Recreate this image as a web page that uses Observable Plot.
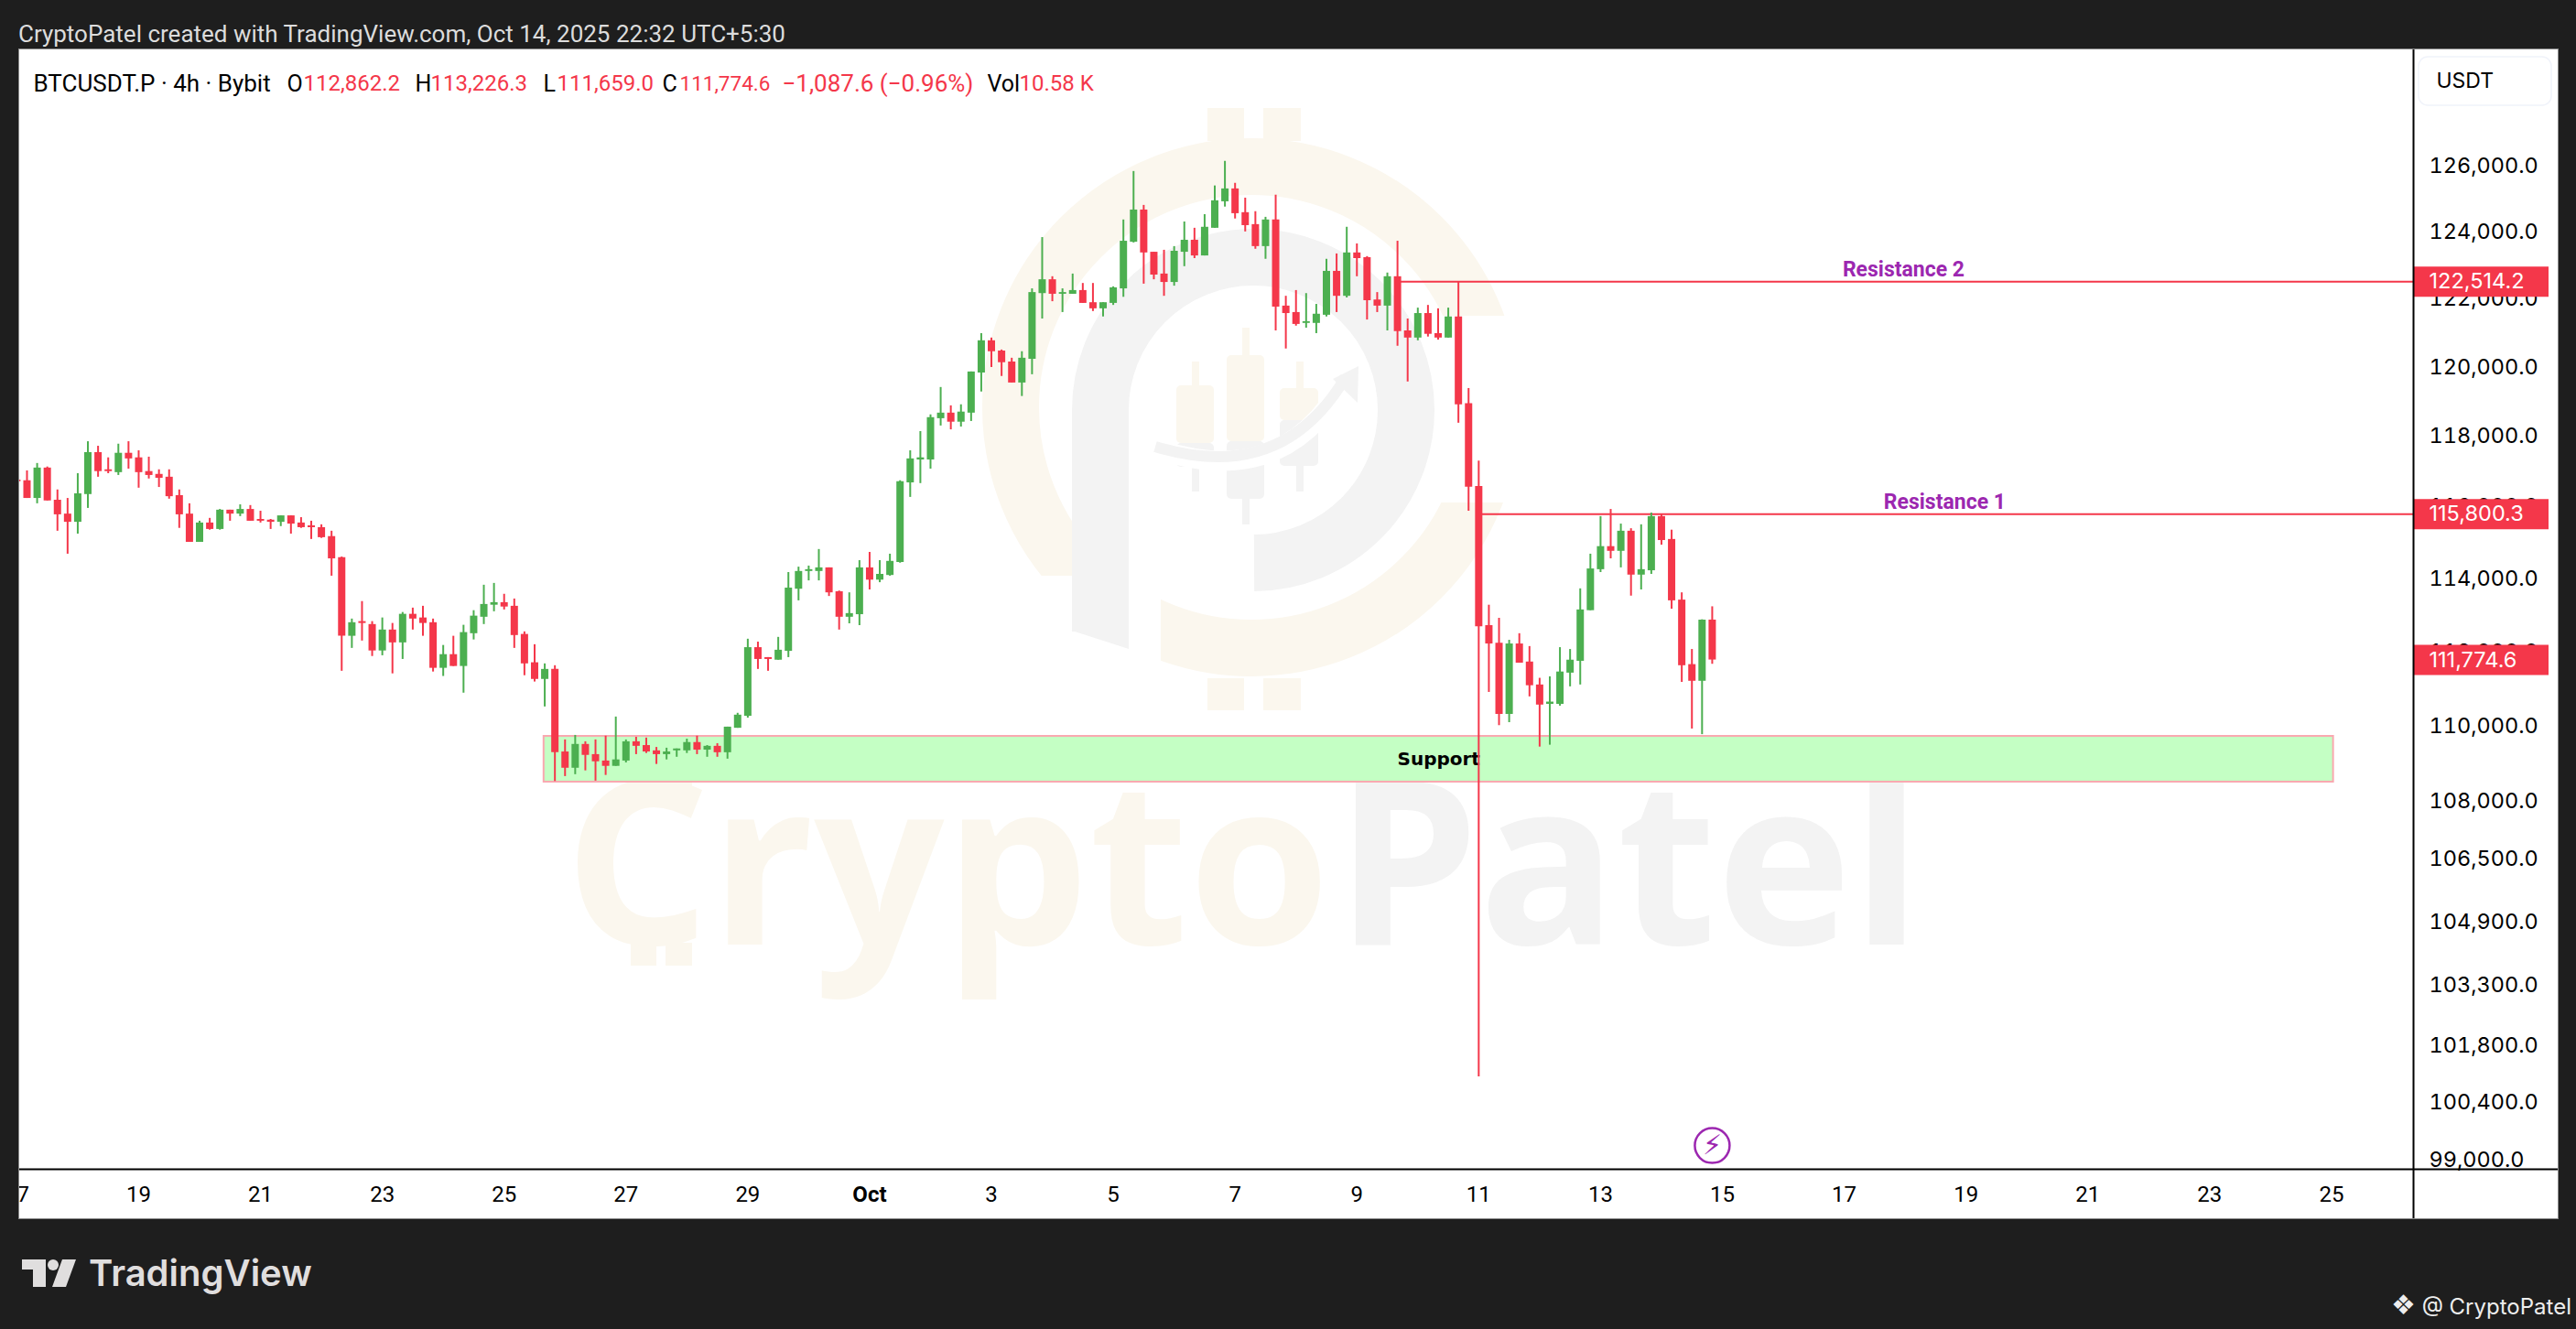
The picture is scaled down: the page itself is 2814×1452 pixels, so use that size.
<!DOCTYPE html>
<html><head><meta charset="utf-8">
<script src="https://cdn.jsdelivr.net/npm/d3@7"></script>
<script src="https://cdn.jsdelivr.net/npm/@observablehq/plot@0.6"></script>
<style>
html,body{margin:0;padding:0;background:#1e1e1e;width:2814px;height:1452px;overflow:hidden;font-family:Roboto,sans-serif}
#chart{position:absolute;left:21px;top:54px;outline:1px solid #8a8a8a}
#chart svg{display:block}
.t{position:absolute;white-space:nowrap}
</style></head><body>
<div class="t" id="head" style="left:20px;top:22px;font-size:26px;line-height:30px;color:#dcdcdc"></div>
<div id="chart"></div>
<svg class="t" style="left:0;top:1360px" width="100" height="60" viewBox="0 1360 100 60"><path fill="#e0dede" d="M24 1376H50V1406H36V1387H24Z M68 1376H83L72 1406H57Z"/><circle cx="58" cy="1382" r="6" fill="#e0dede"/></svg>
<div class="t" id="brand" style="left:97px;top:1368px;font-family:Inter;font-weight:600;font-size:40px;line-height:46px;color:#e0dede"></div>
<div class="t" id="credit" style="left:2612px;top:1410px;font-family:Inter;font-size:24px;line-height:32px;color:#eeeeee"></div>
<script>
// Candles, 4h. First entry is the candle cut by the left edge.
const opens=[116760,116740,116240,117100,116190,115800,115570,116350,117540,117050,116970,117520,117390,117000,116920,116840,116320,115800,115010,115550,115370,115910,115800,115930,115650,115630,115570,115750,115550,115470,115420,115170,114580,112420,112820,112740,112020,112590,112240,113020,112920,112790,111550,111920,111600,112490,112940,113270,113340,113240,112470,111700,111250,111520,
109310,108880,109510,109240,109070,108930,109070,109580,109480,109340,109240,109340,109340,109560,109360,109460,109290,109940,110260,112110,111840,111770,112010,113710,114200,114200,114300,113640,112940,113010,114300,113960,114090,
114450,116680,117330,117330,118510,118670,118410,118670,119830,120770,120470,120150,119540,120230,
122160,122570,122140,122140,122250,121890,121710,121870,122300,123690,124660,123390,122740,122490,123390,123750,123280,124110,124910,125300,124580,124220,123560,124360,121790,121600,121280,121280,121520,122820,122080,123370,123230,121970,121790,122660,121060,120850,121570,120980,120850,121470,
118940,116580,112710,112230,110310,112210,111720,111100,110580,110580,111420,111740,113120,114250,114890,114760,115320,114100,114220,115730,115090,113410,111650,111200,112862.2];
const highs=[116760,117020,117230,117130,116480,116240,116940,117850,117720,117390,117780,117850,117590,117410,117050,117050,116480,116090,115600,115680,115930,115910,116060,116040,115880,115650,115750,115750,115700,115600,115500,115320,114600,112890,113370,112820,112920,112770,113070,113190,113240,112890,112170,112420,112720,113120,113820,113870,113570,113440,112540,112190,111670,111620,
109630,109750,109580,109630,109730,110240,109630,109700,109680,109430,109410,109390,109650,109730,109480,109530,109970,110340,112340,112260,111840,112390,114170,114320,114350,114810,114300,113660,113610,114500,114730,114500,114680,
116740,117590,118140,118620,119410,118880,118910,119860,120980,120850,120500,120260,120450,122300,
123830,122660,122300,122740,122460,122460,121890,122360,124360,125830,124800,123390,123450,123560,124300,124110,124520,125390,126140,125470,125020,124610,124440,125110,122080,122250,122160,121840,123180,123340,124140,123640,123260,122190,122770,123720,121410,121730,121810,121710,121730,122514.2,
119380,117300,113270,112910,112310,112490,112140,111280,111320,112110,112060,113720,114680,115730,115930,115520,115390,115500,115830,115780,115350,113610,112060,112870,113226.3];
const lows=[116710,116240,116090,116170,115320,114680,115240,115960,116840,116940,116890,117070,116530,116790,116550,116220,115400,115010,115010,115350,115350,115600,115730,115600,115550,115370,115450,115240,115400,115090,115120,114070,111470,112090,112290,111870,111890,111400,111790,112590,112420,111450,111330,111600,110880,112320,112740,113090,113140,112090,111350,111180,110510,108530,
108660,108710,108810,108540,108690,108930,109020,109240,109270,108980,109100,109170,109270,109240,109170,109170,109120,109940,110210,111520,111470,111770,111840,113390,113940,113940,113510,112590,112760,112710,113690,113890,114070,
114430,116270,116660,117070,118300,118190,118270,118430,119280,119990,119730,119540,119150,119780,
121410,121920,121600,122140,121870,121630,121470,121810,122050,123670,122440,122570,122080,122380,122960,123200,123280,124110,124750,124390,124000,123480,123180,121060,120530,121200,121140,120980,121470,121600,122030,122660,121380,121600,121060,120610,119570,120770,120880,120790,120850,118380,
115880,101030,110900,110010,110090,111690,110780,109440,109490,110530,111050,111100,113120,114170,114550,114300,113520,113690,114120,114930,113160,111170,109920,109770,111659];
const closes=[116710,116240,117100,116170,115780,115570,116370,117540,117000,117000,117520,117360,116970,116890,116810,116290,115780,115010,115550,115370,115910,115800,115930,115600,115600,115570,115750,115520,115420,115420,115140,114550,112420,112790,112770,112020,112590,112240,113020,112890,112770,111550,111920,111600,112520,112970,113290,113340,113220,112440,111670,111250,111520,109290,
108880,109510,109220,109050,108930,109100,109580,109460,109310,109240,109310,109390,109560,109360,109460,109290,109970,110290,112110,111790,111790,112040,113740,114200,114250,114300,113610,112940,113040,114300,113960,114120,114480,
116710,117360,117390,118540,118670,118410,118700,119860,120770,120450,120130,119540,120260,122190,
122570,122140,122190,122250,121870,121710,121890,122330,123720,124660,123370,122710,122490,123420,123750,123280,124140,124940,125300,124550,124190,123560,124360,121760,121570,121250,121330,121550,122820,122080,123370,123200,121950,121790,122660,121040,120850,121570,120960,120850,121470,118910,
116560,112680,112210,110310,112210,111690,111080,110560,110640,111450,111770,113140,114270,114890,114760,115320,114100,114250,115730,115060,113390,111620,111200,112860,111774.6];
const dayLabels=["17","19","21","23","25","27","29","Oct","3","5","7","9","11","13","15","17","19","21","23","25"];
const dayDates=[[8,17],[8,19],[8,21],[8,23],[8,25],[8,27],[8,29],[9,1],[9,3],[9,5],[9,7],[9,9],[9,11],[9,13],[9,15],[9,17],[9,19],[9,21],[9,23],[9,25]];
const priceTicks=[126000,124000,122000,120000,118000,116000,114000,112000,110000,108000,106500,104900,103300,101800,100400,99000];
const priceTags=[122514.2,115800.3,111774.6];
const supportZone={low:108514,high:109724,from:50.93,to:227.2,label:"Support"};
const resistances=[{name:"Resistance 2",price:122514.2,from:135,labelAt:184.85},{name:"Resistance 1",price:115800.3,from:143,labelAt:188.9}];
const legend=[["BTCUSDT.P · 4h · Bybit",36,"k",26],["O",313,"k",25],["112,862.2",331,"r",24],["H",453,"k",25],["113,226.3",470,"r",24],["L",593,"k",25],["111,659.0",608,"r",24],["C",723,"k",25],["111,774.6",742,"r",22.5],["−1,087.6 (−0.96%)",854,"r",26],["Vol",1078,"k",25],["10.58 K",1113,"r",24]];
const headText="CryptoPatel created with TradingView.com, Oct 14, 2025 22:32 UTC+5:30";

const RED="#f4374a",GREEN="#4caf50",PURPLE="#9c27b0",FONT="Roboto, sans-serif",NUMFONT="Inter, sans-serif";
const H4=4*3600*1000,T0=Date.UTC(2025,8,17,4);
const at=i=>new Date(T0+i*H4);
const candles=opens.map((o,k)=>({t:at(k-1),o,h:highs[k],l:lows[k],c:closes[k]}));
const xDomain=[at(-0.72),at(235.08)],yDomain=[98790,129595];
const dates=dayDates.map(([m,d])=>new Date(Date.UTC(2025,m,d)));
const labelOf=new Map(dates.map((d,i)=>[+d,dayLabels[i]]));

document.getElementById("head").textContent=headText;
document.getElementById("brand").textContent="TradingView";
document.getElementById("credit").innerHTML='<span style="font-family:DejaVu Sans;font-size:30px">❖</span> @ CryptoPatel';

// faint logo behind the candles (decoration only)
function watermark(){
  const g=d3.create("svg:g").attr("transform","translate(-21,-54)");
  const CREAM="#fbf7ee",GREY="#f3f3f3";
  g.append("clipPath").attr("id","wmc").append("path").attr("clip-rule","evenodd")
   .attr("d","M0 0H2800V1400H0Z M1367 345H1700V549H1367Z M1000 629H1268V800H1000Z");
  g.append("circle").attr("cx",1367).attr("cy",445).attr("r",263).attr("fill","none").attr("stroke",CREAM).attr("stroke-width",62).attr("clip-path","url(#wmc)");
  for(const [x,y,w,h] of [[1319,118,40,36],[1380,118,41,36],[1319,741,40,35],[1380,741,41,35],[689,843,28,22],[727,843,29,22],[689,1030,28,25],[727,1030,29,25]])
    g.append("rect").attr("x",x).attr("y",y).attr("width",w).attr("height",h).attr("fill",CREAM);
  g.append("path").attr("d","M1202 690V448A167 167 0 1 1 1370 615").attr("fill","none").attr("stroke",GREY).attr("stroke-width",62);
  g.append("path").attr("d","M1171 689H1233V709Z").attr("fill",GREY);
  for(const [x,w,t,m,b,wx,wt,wb] of [[1285,41,421,484,510,1302,395,537],[1340,41,388,482,545,1357,358,573],[1398,42,424,459,509,1416,395,537]]){
    g.append("rect").attr("x",wx).attr("y",wt).attr("width",8).attr("height",m-wt).attr("fill",CREAM);
    g.append("rect").attr("x",wx).attr("y",m).attr("width",8).attr("height",wb-m).attr("fill",GREY);
    g.append("rect").attr("x",x).attr("y",t).attr("width",w).attr("height",m-t).attr("rx",5).attr("fill",CREAM);
    g.append("rect").attr("x",x).attr("y",m).attr("width",w).attr("height",b-m).attr("rx",5).attr("fill",GREY);
  }
  g.append("path").attr("d","M1246 484Q1400 545 1470 414").attr("fill","none").attr("stroke","#ffffff").attr("stroke-width",22);
  g.append("path").attr("d","M1262 488Q1400 530 1470 412").attr("fill","none").attr("stroke",GREY).attr("stroke-width",12);
  g.append("path").attr("d","M1484 400L1456 414L1483 440Z").attr("fill",GREY);
  // USDT button
  g.append("rect").attr("x",2642).attr("y",62).attr("width",145).attr("height",53).attr("rx",10).attr("fill","#fff").attr("stroke","#f0f3fa").attr("stroke-width",1.5);
  return g.node();
}
const wmText=(s,dx,fill)=>Plot.text([s],{text:d=>d,frameAnchor:"top-left",textAnchor:"start",lineAnchor:"top",dx,dy:800,fontFamily:"Open Sans",fontWeight:700,fontSize:250,fill});
const legendMarks=legend.map(([s,px,c,fs])=>Plot.text([s],{text:d=>d,frameAnchor:"top-left",textAnchor:"start",lineAnchor:"middle",dx:px-21,dy:37,fontSize:fs,fontFamily:FONT,fill:c==="r"?RED:"#000"}));

const chart=Plot.plot({
  width:2773,height:1277,marginTop:0,marginBottom:54,marginLeft:0,marginRight:158,
  style:{background:"#fff",color:"#000",fontFamily:FONT},
  x:{type:"utc",domain:xDomain,range:[0,2615]},
  y:{type:"log",domain:yDomain,range:[1223,0]},
  marks:[
    watermark,
    wmText("Crypto",595,"#fbf7ee"),
    wmText("Patel",1437,"#f3f3f3"),
    Plot.rect([supportZone],{x1:d=>at(d.from),x2:d=>at(d.to),y1:"low",y2:"high",fill:"#c4ffc4",stroke:"#f9a8b0",strokeWidth:2}),
    Plot.text([supportZone],{x:d=>at((d.from+d.to)/2),y:d=>(d.low*d.high)**0.5,text:"label",fontSize:20,fontWeight:700,fontFamily:"DejaVu Sans",fill:"#000"}),
    Plot.ruleY(resistances,{y:"price",x1:d=>at(d.from),x2:()=>xDomain[1],stroke:RED,strokeWidth:2}),
    Plot.text(resistances,{x:d=>at(d.labelAt),y:"price",text:"name",dy:-13,fontSize:23,fontWeight:700,fontFamily:FONT,fill:PURPLE}),
    Plot.ruleX(candles,{x:"t",y1:"l",y2:"h",strokeWidth:2,stroke:d=>d.c>=d.o?GREEN:RED}),
    Plot.ruleX(candles,{x:"t",y1:"o",y2:"c",strokeWidth:8,stroke:d=>d.c>=d.o?GREEN:RED}),
    Plot.dot([{t:at(166),p:99360}],{x:"t",y:"p",r:19,fill:"#fff",stroke:PURPLE,strokeWidth:2.5}),
    Plot.text([{t:at(166),p:99360}],{x:"t",y:"p",text:()=>"⚡",fontFamily:"DejaVu Sans",fontSize:30,fill:PURPLE}),
    Plot.axisY({ticks:priceTicks,anchor:"right",tickSize:0,tickPadding:17,tickFormat:d3.format(",.1f"),fontSize:23.5,fontFamily:NUMFONT,label:null}),
    Plot.ruleY(priceTags,{y:d=>d,insetLeft:2615,insetRight:-148,stroke:RED,strokeWidth:33}),
    Plot.text(priceTags,{y:d=>d,text:d3.format(",.1f"),frameAnchor:"right",textAnchor:"start",dx:17,fontSize:23.5,fontFamily:NUMFONT,fill:"#fff"}),
    Plot.text(["USDT"],{text:d=>d,frameAnchor:"top-right",textAnchor:"start",lineAnchor:"middle",dx:25,dy:34,fontSize:23,fontFamily:NUMFONT,fill:"#000"}),
    ...legendMarks,
    Plot.axisX({ticks:dates.filter(d=>labelOf.get(+d)!=="Oct"),anchor:"bottom",tickSize:0,tickPadding:18,tickFormat:d=>labelOf.get(+d),fontSize:24,label:null}),
    Plot.axisX({ticks:dates.filter(d=>labelOf.get(+d)==="Oct"),anchor:"bottom",tickSize:0,tickPadding:18,tickFormat:d=>labelOf.get(+d),fontSize:24,fontWeight:700,label:null}),
    Plot.ruleY([yDomain[0]],{insetRight:-158,stroke:"#000",strokeWidth:2}),
    Plot.ruleX([xDomain[1]],{insetBottom:-54,stroke:"#000",strokeWidth:2})
  ]
});
document.getElementById("chart").append(chart);
</script>
</body></html>
